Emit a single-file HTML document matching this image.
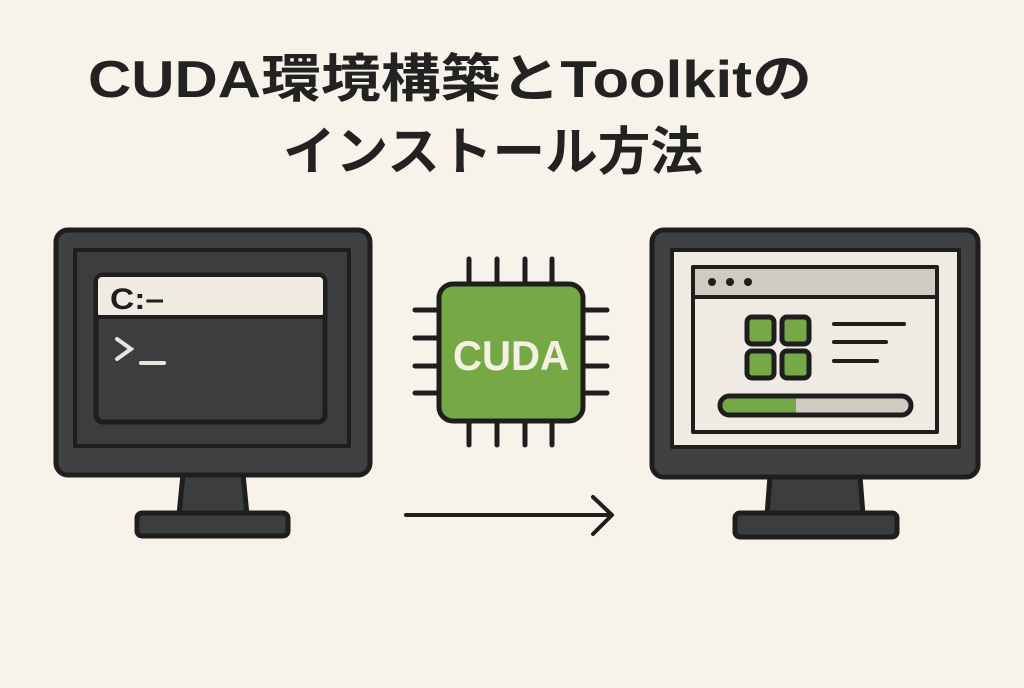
<!DOCTYPE html>
<html><head><meta charset="utf-8"><style>
html,body{margin:0;padding:0;background:#f8f3ea;}
</style></head><body>
<svg width="1024" height="683" viewBox="0 0 1024 683" xmlns="http://www.w3.org/2000/svg">
<rect width="1024" height="683" fill="#f8f3ea"/>
<g font-family="'Liberation Sans','Noto Sans CJK JP',sans-serif" font-weight="bold" fill="#222">
<text x="88" y="97" font-size="52" textLength="724" lengthAdjust="spacingAndGlyphs">CUDA環境構築とToolkitの</text>
<text x="283" y="170" font-size="52" textLength="420" lengthAdjust="spacingAndGlyphs">インストール方法</text>
</g>
<g stroke="#1e1e1e" stroke-width="5" stroke-linejoin="round">
<path d="M183,474 L243,474 L247,515 L179,515 Z" fill="#3b3d3e"/>
<rect x="137" y="513" width="151" height="23" rx="5" fill="#3b3d3e"/>
<rect x="56" y="230" width="314" height="245" rx="12" fill="#3f4142"/>
<rect x="75" y="250" width="274" height="196" fill="#3b3d3e" stroke-width="4"/>
<rect x="96" y="275" width="229" height="147" rx="7" fill="#3b3d3e"/>
<rect x="98" y="277" width="225" height="40" rx="4" fill="#efebe3" stroke="none"/>
<line x1="97" y1="317" x2="324" y2="317" stroke-width="4"/>
<path d="M770,476 L860,476 L863,515 L767,515 Z" fill="#3b3d3e"/>
<rect x="735" y="513" width="162" height="24" rx="5" fill="#3b3d3e"/>
<rect x="652" y="230" width="326" height="247" rx="12" fill="#3f4142"/>
<rect x="672" y="250" width="287" height="197" fill="#efebe3" stroke-width="4"/>
<rect x="693" y="267" width="244" height="165" fill="#efebe3" stroke-width="4"/>
<rect x="695" y="269" width="240" height="27" fill="#cfcbc0" stroke="none"/>
<line x1="694" y1="297" x2="936" y2="297" stroke-width="4"/>
<rect x="747" y="317" width="27" height="27" rx="5" fill="#76a845"/>
<rect x="782" y="317" width="27" height="27" rx="5" fill="#76a845"/>
<rect x="747" y="351" width="27" height="27" rx="5" fill="#76a845"/>
<rect x="782" y="351" width="27" height="27" rx="5" fill="#76a845"/>
<rect x="720" y="396" width="191" height="19" rx="9.5" fill="#cfcbc0"/>
<path d="M729.5,398.5 L796,398.5 L796,412.5 L729.5,412.5 A7,7 0 0 1 729.5,398.5 Z" fill="#76a845" stroke="none"/>
<g stroke-linecap="round" stroke-width="5">
<line x1="469" y1="259" x2="469" y2="285"/><line x1="497" y1="259" x2="497" y2="285"/><line x1="525" y1="259" x2="525" y2="285"/><line x1="552" y1="259" x2="552" y2="285"/>
<line x1="469" y1="420" x2="469" y2="445"/><line x1="497" y1="420" x2="497" y2="445"/><line x1="525" y1="420" x2="525" y2="445"/><line x1="552" y1="420" x2="552" y2="445"/>
<line x1="415" y1="310" x2="440" y2="310"/><line x1="415" y1="338" x2="440" y2="338"/><line x1="415" y1="366" x2="440" y2="366"/><line x1="415" y1="393" x2="440" y2="393"/>
<line x1="582" y1="310" x2="607" y2="310"/><line x1="582" y1="338" x2="607" y2="338"/><line x1="582" y1="366" x2="607" y2="366"/><line x1="582" y1="393" x2="607" y2="393"/>
</g>
<rect x="439" y="284" width="144" height="137" rx="14" fill="#76a845"/>
<g fill="none" stroke-linecap="round" stroke-width="4">
<line x1="406" y1="515" x2="611" y2="515"/>
<polyline points="593,497 612,515 593,534"/>
</g>
</g>
<circle cx="712" cy="282" r="4" fill="#1e1e1e"/><circle cx="730" cy="282" r="4" fill="#1e1e1e"/><circle cx="748" cy="282" r="4" fill="#1e1e1e"/>
<g stroke="#1e1e1e" stroke-width="4" stroke-linecap="round">
<line x1="834" y1="324" x2="904" y2="324"/><line x1="834" y1="342" x2="886" y2="342"/><line x1="834" y1="361" x2="877" y2="361"/>
</g>
<text x="511" y="370" text-anchor="middle" font-family="'Liberation Sans',sans-serif" font-weight="bold" font-size="42" fill="#f4f1e4" textLength="116" lengthAdjust="spacingAndGlyphs">CUDA</text>
<text x="110" y="309" font-family="'Liberation Sans',sans-serif" font-weight="bold" font-size="30" fill="#1e1e1e" textLength="54" lengthAdjust="spacingAndGlyphs">C:–</text>
<g stroke="#e8e5dc" stroke-width="4" stroke-linecap="round" fill="none">
<polyline points="117,339 131,349 117,359"/>
<line x1="141" y1="363" x2="164" y2="363"/>
</g>
</svg>
</body></html>
